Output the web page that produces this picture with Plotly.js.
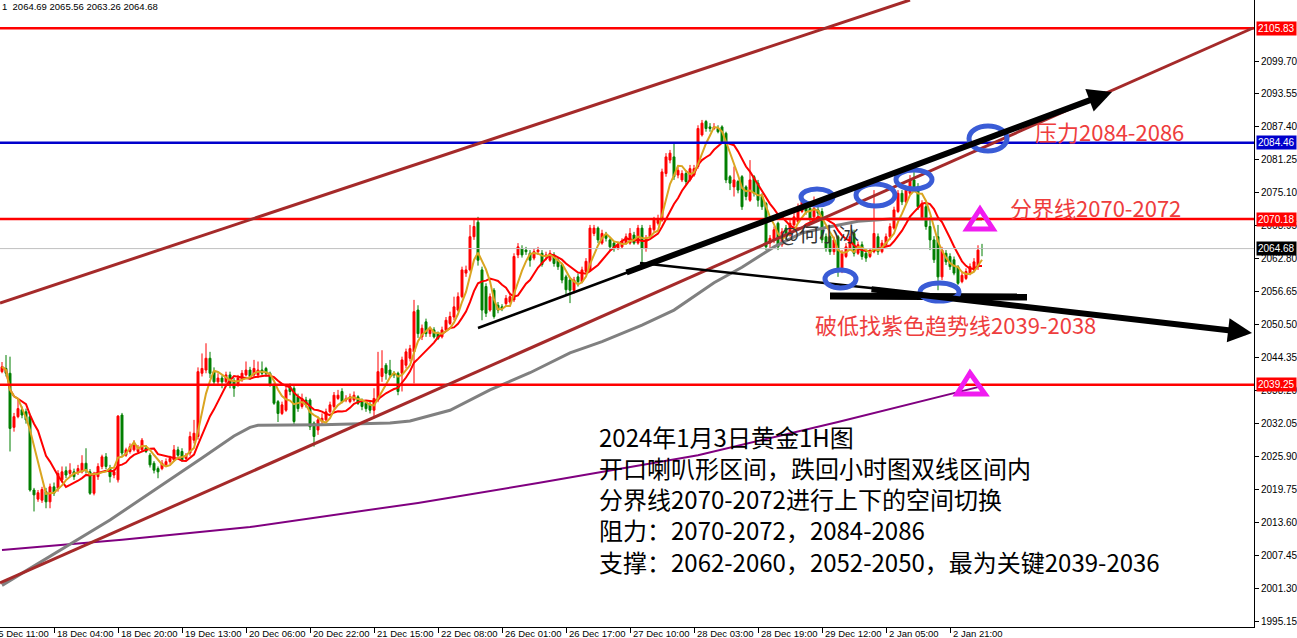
<!DOCTYPE html>
<html><head><meta charset="utf-8">
<script src="https://cdn.plot.ly/plotly-3.0.1.min.js"></script>
<style>html,body{margin:0;padding:0;background:#fff;overflow:hidden}#chart{width:1297px;height:638px}</style>
</head><body><div id="chart"></div>
<script>
// ---------------- data (XAUUSD H1) ----------------
const opens = [
2041.7,2042.3,2041.4,2031.3,2033.3,2034.6,2034.2,2033.3,2019.6,2017.9,
2017.7,2019.3,2017.4,2020.2,2019.9,2021.5,2023.2,2022.7,2023.0,2023.0,
2023.0,2024.6,2023.0,2019.0,2022.1,2024.0,2025.8,2023.7,2022.4,2021.5,
2033.6,2026.1,2026.8,2027.1,2026.8,2027.1,2027.4,2026.1,2024.6,2023.6,
2023.6,2024.3,2024.9,2025.2,2027.1,2026.8,2025.5,2026.5,2028.9,2029.6,
2041.4,2042.0,2044.2,2041.7,2039.8,2040.5,2039.8,2041.1,2040.0,2039.2,
2040.2,2041.1,2042.0,2041.1,2041.1,2042.0,2042.3,2041.4,2039.2,2036.1,
2033.9,2034.5,2038.9,2038.6,2037.0,2035.2,2036.4,2036.4,2032.1,2030.8,
2032.4,2032.7,2034.2,2035.2,2036.7,2038.0,2036.4,2036.1,2036.4,2037.0,
2036.1,2035.8,2035.5,2034.5,2036.4,2040.8,2042.9,2042.0,2041.4,2041.4,
2041.4,2042.9,2044.2,2045.4,2053.2,2048.2,2051.0,2048.8,2049.5,2048.8,
2048.2,2049.5,2050.7,2051.9,2053.2,2055.7,2060.1,2060.7,2066.9,2069.6,
2060.7,2057.6,2053.2,2056.9,2054.1,2053.8,2054.4,2054.7,2055.1,2063.5,
2064.7,2064.4,2063.8,2062.9,2064.1,2063.8,2063.2,2062.5,2063.5,2062.5,
2061.7,2059.4,2058.8,2056.9,2059.4,2058.5,2060.4,2060.7,2067.5,2068.5,
2065.7,2067.2,2066.3,2065.7,2064.7,2065.0,2065.7,2065.7,2067.2,2065.7,
2068.5,2064.7,2066.9,2068.2,2069.4,2070.0,2078.7,2081.2,2081.8,2078.4,
2077.5,2078.7,2077.5,2078.4,2080.0,2085.9,2088.4,2087.4,2087.1,2087.1,
2087.4,2086.2,2078.1,2076.2,2077.2,2078.1,2076.2,2073.7,2078.1,2076.9,
2074.4,2073.1,2065.7,2066.3,2069.4,2065.4,2068.5,2067.2,2069.1,2069.7,
2071.6,2073.1,2072.2,2070.6,2071.9,2071.6,2066.9,2066.9,2064.1,2066.9,
2060.7,2063.2,2064.7,2067.5,2063.8,2065.4,2063.8,2063.2,2064.1,2066.9,
2064.1,2065.4,2066.9,2068.5,2071.6,2075.0,2073.4,2075.0,2077.5,2076.2,
2070.3,2072.5,2068.8,2066.3,2066.9,2059.4,2063.8,2063.2,2062.6,2061.3,
2058.5,2059.1,2060.1,2060.7,2061.3,2064.69];
const highs = [
2043.5,2044.8,2044.5,2034.0,2036.7,2035.2,2034.8,2033.8,2020.0,2019.6,
2020.2,2020.0,2020.8,2021.0,2023.3,2024.0,2024.0,2024.6,2023.6,2024.3,
2026.1,2027.4,2023.5,2023.0,2024.6,2026.2,2026.5,2024.3,2023.6,2033.6,
2034.0,2027.5,2028.3,2028.9,2028.0,2029.3,2028.0,2026.5,2025.0,2024.0,
2025.2,2025.5,2026.0,2028.0,2027.7,2027.4,2026.5,2030.5,2032.7,2042.5,
2045.1,2047.0,2045.4,2042.5,2041.4,2041.0,2041.7,2041.7,2040.5,2041.1,
2042.0,2043.6,2042.6,2043.9,2043.6,2043.6,2042.6,2041.7,2039.5,2036.4,
2036.1,2039.2,2039.5,2039.0,2037.6,2037.6,2037.0,2036.7,2032.4,2033.3,
2033.9,2034.8,2036.1,2037.9,2038.3,2038.6,2037.3,2037.6,2038.0,2037.3,
2036.7,2036.1,2036.1,2038.6,2045.4,2045.7,2043.3,2043.9,2041.8,2041.7,
2044.5,2046.0,2046.7,2055.1,2054.1,2050.5,2051.6,2050.1,2050.0,2049.2,
2050.1,2051.9,2052.9,2055.7,2056.5,2061.3,2061.5,2069.1,2070.0,2070.6,
2061.3,2058.2,2056.3,2057.3,2054.7,2054.3,2056.0,2056.3,2063.8,2065.7,
2065.3,2065.0,2064.4,2064.7,2065.0,2064.4,2064.1,2064.4,2064.0,2063.0,
2062.0,2059.8,2059.4,2059.4,2060.0,2061.3,2062.9,2069.1,2069.1,2068.8,
2068.2,2067.8,2066.6,2066.0,2066.0,2066.6,2067.5,2068.5,2067.8,2069.1,
2069.1,2067.2,2069.1,2070.6,2071.0,2079.6,2082.5,2083.1,2084.3,2079.9,
2079.3,2079.3,2080.3,2080.3,2087.7,2088.7,2088.7,2088.1,2088.1,2087.7,
2087.7,2086.5,2078.4,2080.0,2077.5,2078.4,2076.5,2081.2,2078.4,2077.5,
2075.0,2073.4,2067.2,2068.8,2069.7,2068.5,2069.1,2070.0,2071.3,2073.1,
2075.0,2073.7,2072.8,2074.4,2072.5,2072.2,2067.5,2067.2,2066.9,2067.2,
2064.4,2065.7,2067.5,2068.2,2066.0,2066.0,2064.4,2064.7,2075.6,2067.5,
2066.3,2067.5,2069.4,2072.5,2075.6,2075.6,2076.2,2078.4,2079.0,2076.9,
2073.7,2073.1,2070.6,2067.0,2069.1,2065.0,2064.4,2063.8,2063.2,2061.6,
2060.4,2061.0,2061.9,2062.9,2065.3,2065.56];
const lows = [
2041.4,2040.8,2026.8,2030.5,2033.0,2033.0,2032.0,2019.3,2015.6,2017.4,
2017.2,2016.2,2016.2,2018.5,2019.3,2021.0,2021.8,2022.0,2021.5,2022.4,
2022.7,2022.7,2018.7,2018.6,2021.5,2023.5,2023.5,2021.0,2021.8,2021.0,
2026.0,2025.8,2026.4,2026.8,2026.4,2026.8,2026.5,2023.8,2022.7,2021.8,
2023.3,2024.0,2024.5,2024.9,2025.8,2024.9,2025.0,2026.0,2028.3,2029.0,
2040.8,2041.4,2040.5,2039.2,2039.2,2038.6,2039.5,2038.6,2037.0,2038.9,
2039.8,2040.8,2040.2,2040.8,2040.5,2041.0,2040.8,2038.9,2035.5,2032.3,
2033.6,2034.2,2037.3,2031.8,2034.2,2034.8,2035.0,2030.8,2027.7,2029.9,
2031.8,2032.4,2033.9,2034.8,2036.4,2035.8,2036.0,2035.8,2036.1,2035.5,
2034.5,2034.2,2033.9,2033.0,2036.0,2039.8,2040.2,2040.5,2040.5,2037.3,
2038.0,2042.3,2043.6,2039.5,2048.0,2047.6,2048.2,2048.2,2047.9,2047.6,
2047.9,2049.2,2050.4,2051.3,2052.9,2055.4,2059.4,2060.4,2066.3,2061.5,
2051.3,2051.9,2052.9,2051.6,2052.6,2053.0,2054.0,2054.4,2054.7,2062.9,
2063.0,2063.5,2061.3,2062.5,2063.5,2061.3,2062.5,2062.2,2061.3,2060.7,
2058.2,2056.0,2054.5,2056.3,2057.6,2058.2,2060.0,2060.4,2067.0,2065.7,
2065.4,2066.0,2064.4,2064.1,2064.4,2064.7,2065.4,2065.4,2065.4,2065.4,
2061.6,2064.1,2066.6,2067.8,2069.0,2069.7,2078.1,2080.6,2077.5,2077.8,
2077.1,2076.6,2077.2,2078.1,2079.6,2085.6,2086.5,2086.5,2086.8,2086.2,
2084.3,2076.9,2075.6,2074.4,2075.0,2071.9,2073.7,2073.4,2074.4,2072.5,
2071.9,2064.4,2064.7,2065.7,2064.4,2065.0,2066.3,2066.9,2068.8,2069.4,
2071.3,2071.0,2069.7,2070.3,2070.6,2065.7,2064.1,2063.5,2063.5,2059.4,
2060.1,2062.9,2064.4,2063.2,2063.5,2062.6,2062.2,2062.9,2063.8,2063.5,
2063.8,2065.0,2066.3,2068.2,2071.3,2072.8,2073.1,2074.7,2075.3,2071.9,
2070.0,2068.2,2064.4,2062.0,2056.9,2058.8,2061.6,2060.7,2059.7,2057.9,
2058.2,2058.8,2059.7,2060.4,2060.7,2063.26];
const closes = [
2042.6,2041.4,2031.1,2033.3,2034.8,2033.6,2032.7,2019.6,2018.7,2019.1,
2019.7,2017.4,2020.2,2019.0,2022.7,2023.0,2022.4,2023.3,2022.1,2023.6,
2024.6,2023.3,2019.0,2022.4,2024.0,2025.8,2024.0,2022.1,2023.0,2033.4,
2026.5,2027.1,2027.7,2028.0,2027.4,2028.9,2026.8,2024.3,2023.3,2023.0,
2024.6,2024.9,2025.5,2027.1,2026.1,2025.2,2026.1,2029.6,2030.2,2041.7,
2042.3,2044.2,2041.4,2039.8,2040.5,2039.8,2041.1,2039.5,2038.6,2040.5,
2041.4,2042.0,2040.8,2042.3,2042.0,2041.4,2041.4,2039.2,2035.8,2033.9,
2035.5,2038.3,2038.0,2032.4,2034.8,2036.7,2035.5,2031.4,2029.6,2032.7,
2033.0,2034.2,2035.5,2037.3,2037.3,2036.1,2036.7,2037.0,2037.3,2035.8,
2035.2,2034.8,2034.5,2036.7,2041.7,2042.3,2041.4,2041.1,2041.1,2038.0,
2043.9,2045.4,2046.0,2052.9,2048.8,2049.8,2048.8,2049.5,2048.2,2047.9,
2049.5,2051.3,2052.0,2053.8,2055.7,2060.7,2060.7,2066.9,2068.8,2062.5,
2053.2,2052.6,2055.7,2052.0,2053.2,2053.5,2055.4,2055.7,2063.2,2065.0,
2063.5,2064.1,2062.5,2064.1,2064.4,2061.7,2063.5,2063.8,2061.9,2061.3,
2058.8,2057.0,2056.9,2058.8,2058.5,2060.7,2062.3,2068.5,2068.5,2066.3,
2067.5,2066.6,2065.0,2064.7,2065.4,2066.0,2066.9,2067.5,2065.7,2068.5,
2064.7,2066.6,2068.5,2070.0,2070.3,2079.0,2081.8,2082.5,2078.1,2079.3,
2078.7,2077.2,2079.6,2079.6,2087.1,2088.1,2087.1,2087.1,2087.4,2086.5,
2084.6,2077.5,2076.9,2077.5,2075.6,2072.5,2074.4,2077.5,2075.0,2073.7,
2072.5,2065.0,2066.6,2068.2,2065.0,2067.8,2066.9,2069.4,2070.6,2072.5,
2073.4,2071.6,2070.3,2072.2,2071.3,2066.3,2064.7,2064.1,2066.3,2060.7,
2063.8,2065.0,2066.9,2063.8,2065.4,2063.2,2062.9,2064.1,2067.5,2064.1,
2065.7,2066.9,2068.8,2071.9,2075.0,2073.4,2075.6,2077.5,2075.9,2072.5,
2073.1,2068.8,2066.3,2062.6,2059.4,2064.4,2062.2,2061.3,2060.1,2058.2,
2059.7,2060.4,2061.3,2062.2,2064.4,2064.68];

// long moving averages (bar index, price)
const grayMaBars = [0, 27, 50, 58, 62, 64, 80, 97, 102, 112, 122, 132, 142, 150, 160, 168, 178, 185, 193, 200, 206, 214, 222, 245];
const grayMaVals = [2001.8, 2014.0, 2025.6, 2029.7, 2031.3, 2031.7, 2031.8, 2032.1, 2032.5, 2034.5, 2038.3, 2041.5, 2045.2, 2047.3, 2050.4, 2053.2, 2058.3, 2061.2, 2065.0, 2067.6, 2068.6, 2069.8, 2070.18, 2070.18];
const purpleMaBars = [0, 30, 62, 104, 134, 174, 209, 245];
const purpleMaVals = [2008.4, 2010.3, 2012.7, 2017.2, 2020.9, 2026.1, 2032.3, 2039.0];

// axis ticks
const xTickBars = [-3, 13, 29, 45, 61, 77, 93, 109, 125, 141, 157, 173, 189, 205, 221, 237];
const xTickLabels = ['15 Dec 11:00','18 Dec 04:00','18 Dec 20:00','19 Dec 13:00','20 Dec 06:00','20 Dec 22:00','21 Dec 15:00','22 Dec 08:00','26 Dec 01:00','26 Dec 17:00','27 Dec 10:00','28 Dec 03:00','28 Dec 19:00','29 Dec 12:00','2 Jan 05:00','2 Jan 21:00'];
const yTickVals = [1995.15, 2001.30, 2007.45, 2013.60, 2019.75, 2025.90, 2032.05, 2038.20, 2044.35, 2050.50, 2056.65, 2062.80, 2068.95, 2075.10, 2081.25, 2087.40, 2093.55, 2099.70];

// horizontal price levels and current price
const levelPrices = [2105.83, 2084.46, 2070.18, 2039.25];
const lastPrice = 2064.68;
const headerText = '1  2064.69 2065.56 2063.26 2064.68';

// annotation texts
const noteResist = '压力2084-2086';
const noteDivide = '分界线2070-2072';
const noteBreak = '破低找紫色趋势线2039-2038';
const watermark = '@何小冰';
const summaryLines = ['2024年1月3日黄金1H图', '开口喇叭形区间，跌回小时图双线区间内', '分界线2070-2072进行上下的空间切换', '阻力：2070-2072，2084-2086', '支撑：2062-2060，2052-2050，最为关键2039-2036'];

// ---------------- drawing ----------------
const barIdx = closes.map((_, i) => i);
function sma(vals, n) {
  return vals.map((_, i) => {
    const s = vals.slice(Math.max(0, i - n + 1), i + 1);
    return s.reduce((a, b) => a + b, 0) / s.length;
  });
}
// reference-picture pixel -> data coordinate helpers (for drawn objects only)
const P = px => (px - 2) / 4;
const V = py => 2111.09 - 0.1867 * py;
const X0 = P(0), X1 = P(1254);
const paperX = b => (b - X0) / (X1 - X0);

const levelColors = ['#ff0000', '#0000cc', '#ff0000', '#ff0000'];
const RED_TXT = '#ee3d3d', BLUE = '#3a5cd6', MAG = '#f01cf0', BROWN = '#a52a2a';

const traces = [
  {type: 'scatter', mode: 'lines', x: purpleMaBars, y: purpleMaVals, line: {color: '#800080', width: 2}, hoverinfo: 'skip'},
  {type: 'scatter', mode: 'lines', x: grayMaBars, y: grayMaVals, line: {color: '#808080', width: 3}, hoverinfo: 'skip'},
  {type: 'candlestick', x: barIdx, open: opens, high: highs, low: lows, close: closes,
   increasing: {line: {color: '#ff0000', width: 1}, fillcolor: '#ff0000'},
   decreasing: {line: {color: '#007f00', width: 1}, fillcolor: '#007f00'},
   hoverinfo: 'skip'},
  {type: 'scatter', mode: 'lines', x: barIdx, y: sma(closes, 10), line: {color: '#ff0000', width: 2}, hoverinfo: 'skip'},
  {type: 'scatter', mode: 'lines', x: barIdx, y: sma(closes, 5), line: {color: '#daa520', width: 2}, hoverinfo: 'skip'}
];

const shapes = [];
levelPrices.forEach((p, i) => shapes.push({type: 'line', xref: 'paper', x0: 0, x1: 1, y0: p, y1: p, line: {color: levelColors[i], width: 2.5}}));
shapes.push({type: 'line', xref: 'paper', x0: 0, x1: 1, y0: lastPrice, y1: lastPrice, line: {color: '#c0c0c0', width: 1}});
// channel lines
shapes.push({type: 'line', x0: P(0), y0: V(303), x1: P(910), y1: V(0), line: {color: BROWN, width: 3}});
shapes.push({type: 'line', x0: P(0), y0: V(583), x1: P(1253), y1: V(28), line: {color: BROWN, width: 3}});
// black trend lines (thin parts)
shapes.push({type: 'line', x0: P(478), y0: V(328), x1: P(650), y1: V(264), line: {color: '#000', width: 2.5}});
shapes.push({type: 'line', x0: P(640), y0: V(263), x1: P(880), y1: V(289), line: {color: '#000', width: 2.5}});
shapes.push({type: 'line', x0: P(830), y0: V(296), x1: P(1027), y1: V(297), line: {color: '#000', width: 7}});
// blue ellipses
[[801, 833, 189, 205], [856, 895, 184, 206], [896, 932, 170, 189], [969, 1007, 126, 151], [825, 856, 270, 288], [920, 959, 283, 301]]
  .forEach(e => shapes.push({type: 'circle', x0: P(e[0]), x1: P(e[1]), y0: V(e[3]), y1: V(e[2]), line: {color: BLUE, width: 5}}));
// magenta triangles
function tri(ax, ay, lx, rx, by) {
  return {type: 'path', path: `M${P(ax)},${V(ay)} L${P(rx)},${V(by)} L${P(lx)},${V(by)} Z`, line: {color: MAG, width: 5}};
}
shapes.push(tri(980, 209, 967, 993, 229));
shapes.push(tri(970, 373, 957, 985, 394));

const annotations = [];
// thick arrows
annotations.push({x: P(1112), y: V(92), ax: P(625), ay: V(273), axref: 'x', ayref: 'y', text: '', showarrow: true, arrowhead: 2, arrowsize: 0.8, arrowwidth: 6, arrowcolor: '#000'});
annotations.push({x: P(1252), y: V(333), ax: P(870), ay: V(289), axref: 'x', ayref: 'y', text: '', showarrow: true, arrowhead: 2, arrowsize: 0.8, arrowwidth: 6, arrowcolor: '#000'});
// texts
const cjk = 'Noto Sans CJK SC, sans-serif';
annotations.push({x: P(1033), y: V(131), xanchor: 'left', yanchor: 'middle', text: noteResist, showarrow: false, font: {family: cjk, size: 22, color: RED_TXT}});
annotations.push({x: P(1008), y: V(207), xanchor: 'left', yanchor: 'middle', text: noteDivide, showarrow: false, font: {family: cjk, size: 22, color: RED_TXT}});
annotations.push({x: P(813), y: V(324), xanchor: 'left', yanchor: 'middle', text: noteBreak, showarrow: false, font: {family: cjk, size: 22, color: RED_TXT}});
annotations.push({x: P(778), y: V(233), xanchor: 'left', yanchor: 'middle', text: watermark, showarrow: false, font: {family: cjk, size: 20, color: '#333'}});
summaryLines.forEach((t, i) => annotations.push({x: P(598), y: V(436 + 31.25 * i), xanchor: 'left', yanchor: 'middle', text: t, showarrow: false, borderpad: 0, font: {family: cjk, size: 24, color: '#000'}}));
// header
annotations.push({xref: 'paper', yref: 'paper', x: 0, y: 1, xanchor: 'left', yanchor: 'top', yshift: 1, text: headerText, showarrow: false, font: {family: 'Liberation Sans', size: 9.5, color: '#000'}});
// x tick labels (to the right of tick marks)
xTickBars.forEach((b, i) => annotations.push({xref: 'paper', x: paperX(b), y: 0, yref: 'paper', xanchor: 'left', yanchor: 'top', xshift: 1, yshift: 1, text: xTickLabels[i], showarrow: false, font: {family: 'Liberation Sans', size: 9.5, color: '#000'}}));
// price boxes on the right axis
const boxPrices = [2105.83, 2084.46, 2070.18, lastPrice, 2039.25];
const boxColors = ['#ff0000', '#0000cc', '#ff0000', '#000000', '#ff0000'];
boxPrices.forEach((p, i) => annotations.push({xref: 'paper', x: 1, y: p, xanchor: 'left', yanchor: 'middle', xshift: 2, text: p.toFixed(2), showarrow: false, bgcolor: boxColors[i], borderpad: 1, font: {family: 'Liberation Sans', size: 10, color: '#fff'}}));

const layout = {
  width: 1297, height: 638,
  margin: {l: 0, r: 43, t: 0, b: 11},
  paper_bgcolor: '#fff', plot_bgcolor: '#fff',
  showlegend: false, hovermode: false,
  xaxis: {range: [X0, X1], showgrid: false, zeroline: false, showline: true, linecolor: '#000', linewidth: 1,
          ticks: 'outside', ticklen: 5, tickcolor: '#000', tickvals: xTickBars, showticklabels: false, rangeslider: {visible: false}, fixedrange: true},
  yaxis: {range: [V(627), V(0)], side: 'right', showgrid: false, zeroline: false, showline: true, linecolor: '#000', linewidth: 1,
          ticks: 'outside', ticklen: 4, tickcolor: '#000', tickvals: yTickVals, ticktext: yTickVals.map(v => v.toFixed(2)),
          tickfont: {family: 'Liberation Sans', size: 10, color: '#000'}, fixedrange: true},
  shapes: shapes,
  annotations: annotations
};
Plotly.newPlot('chart', traces, layout, {staticPlot: true, displayModeBar: false});
</script></body></html>
